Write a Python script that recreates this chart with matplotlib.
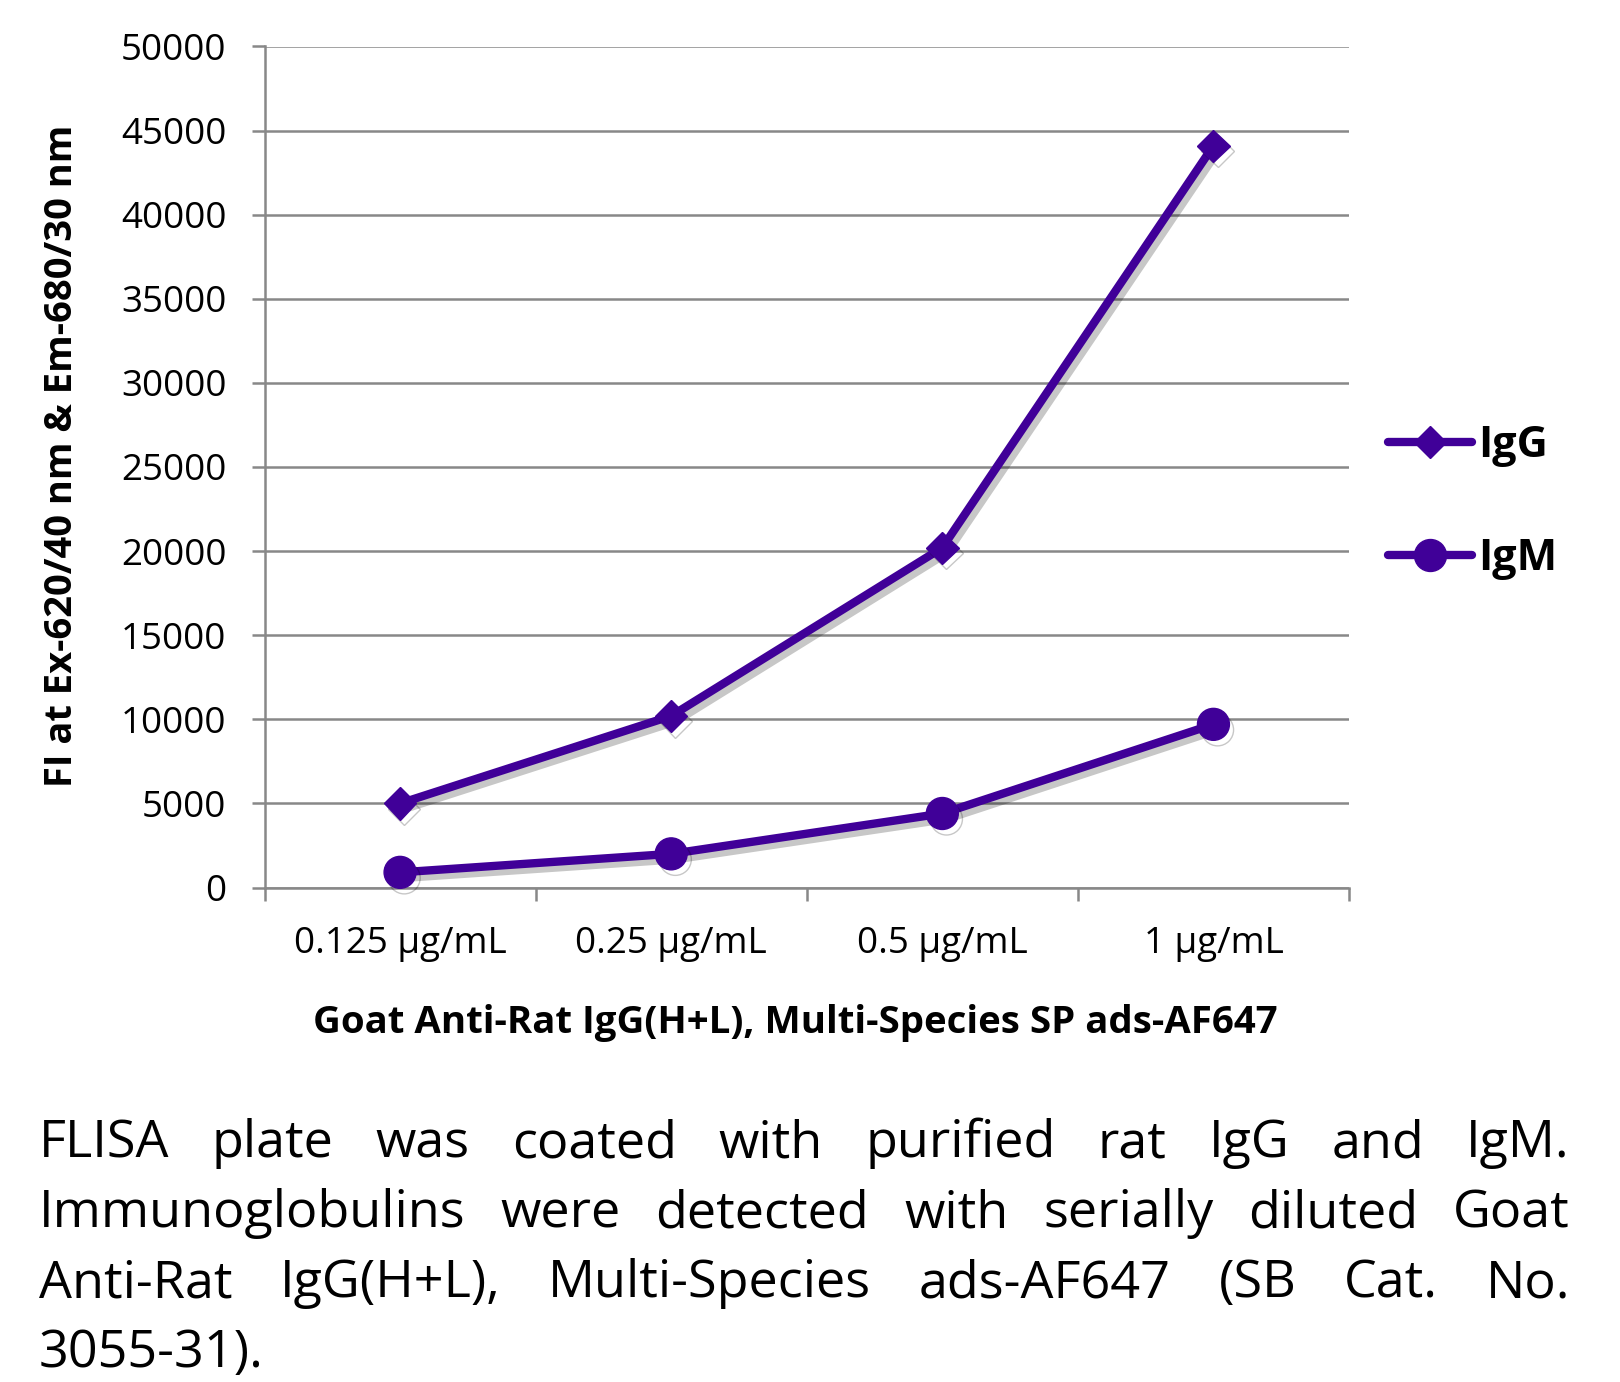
import matplotlib
matplotlib.use('Agg')
import matplotlib.pyplot as plt
import matplotlib.patheffects as pe
from matplotlib.lines import Line2D

# ---------------- data ----------------
categories = ['0.125 µg/mL', '0.25 µg/mL', '0.5 µg/mL', '1 µg/mL']
igg_values = [5000, 10200, 20200, 44100]
igm_values = [900, 2000, 4400, 9700]
series_names = ['IgG', 'IgM']
y_ticks = [0, 5000, 10000, 15000, 20000, 25000, 30000, 35000, 40000, 45000, 50000]
x_title = 'Goat Anti-Rat IgG(H+L), Multi-Species SP ads-AF647'
y_title = 'FI at Ex-620/40 nm & Em-680/30 nm'
caption_lines = [
    'FLISA plate was coated with purified rat IgG and IgM.',
    'Immunoglobulins were detected with serially diluted Goat',
    'Anti-Rat IgG(H+L), Multi-Species ads-AF647 (SB Cat. No.',
    '3055-31).',
]

# ---------------- style ----------------
FONT = ['Open Sans', 'DejaVu Sans']
plt.rcParams['font.family'] = FONT
PURPLE = '#400098'
GRID = '#888888'
W, H = 1620, 1382

fig = plt.figure(figsize=(W / 100, H / 100), dpi=100)
ax_l, ax_r, ax_t, ax_b = 264.5, 1349, 46.5, 887.5
ax = fig.add_axes([ax_l / W, 1 - ax_b / H, (ax_r - ax_l) / W, (ax_b - ax_t) / H])

xpos = list(range(len(categories)))
shadow = [pe.SimpleLineShadow(offset=(3, -4), shadow_color='black', alpha=0.22), pe.Normal()]
ax.plot(xpos, igg_values, color=PURPLE, lw=6, marker='D', ms=16.5,
        solid_capstyle='round', path_effects=shadow, zorder=5, clip_on=False)
ax.plot(xpos, igm_values, color=PURPLE, lw=6, marker='o', ms=23,
        solid_capstyle='round', path_effects=shadow, zorder=5, clip_on=False)

ax.set_xlim(-0.5, len(categories) - 0.5)
ax.set_ylim(y_ticks[0], y_ticks[-1])
ax.set_yticks(y_ticks)
ax.set_yticklabels([str(v) for v in y_ticks])
ax.yaxis.grid(True, color=GRID, lw=1.8)
ax.set_axisbelow(True)

# x ticks: boundaries as major ticks, labels at category centres
ax.set_xticks([i - 0.5 for i in range(len(categories) + 1)])
ax.set_xticklabels([''] * (len(categories) + 1))
ax.set_xticks(xpos, minor=True)
ax.set_xticklabels(categories, minor=True)
ax.tick_params(axis='x', which='major', length=9.4, width=1.8, color=GRID, direction='out')
ax.tick_params(axis='x', which='minor', length=0, pad=27.5, labelsize=26.5)
ax.tick_params(axis='y', which='major', length=9.4, width=1.8, color=GRID, direction='out',
               pad=18, labelsize=26.5)

for s in ['top', 'right']:
    ax.spines[s].set_visible(False)
for s in ['left', 'bottom']:
    ax.spines[s].set_color(GRID)
    ax.spines[s].set_linewidth(1.8)

# legend
handles = [
    Line2D([0], [0], color=PURPLE, lw=6, marker='D', ms=16.5, solid_capstyle='round'),
    Line2D([0], [0], color=PURPLE, lw=6, marker='o', ms=23, solid_capstyle='round'),
]
leg = fig.legend(handles, series_names, loc='center left',
                 bbox_to_anchor=(1388 / W, 1 - 502 / H), frameon=False,
                 prop={'weight': 'bold', 'size': 31, 'family': FONT},
                 handlelength=1.94, handletextpad=0.16, labelspacing=1.63,
                 borderpad=0, borderaxespad=0)

renderer = fig.canvas.get_renderer()

def fit_text(t, target, vertical=False):
    bb = t.get_window_extent(renderer)
    cur = bb.height if vertical else bb.width
    t.set_fontsize(t.get_fontsize() * target / cur)

# axis titles
xt = fig.text(795 / W, 1 - 1023 / H, x_title, ha='center', va='center',
              fontweight='bold', fontsize=24)
fit_text(xt, 966)
yt = fig.text(62 / W, 1 - 456 / H, y_title, ha='center', va='center',
              rotation=90, fontweight='bold', fontsize=24)
fit_text(yt, 664, vertical=True)

# justified caption
cap_fs = 37.5
x0, x1 = 39, 1570
baselines = [1157, 1227, 1297, 1367]
for i, (line, yb) in enumerate(zip(caption_lines, baselines)):
    words = line.split(' ')
    texts = [fig.text(0, 1 - yb / H, w, fontsize=cap_fs, va='baseline', ha='left')
             for w in words]
    widths = [t.get_window_extent(renderer).width for t in texts]
    justify = i < len(caption_lines) - 1 and len(words) > 1
    if justify:
        gap = (x1 - x0 - sum(widths)) / (len(words) - 1)
    else:
        gap = cap_fs * 100 / 72 * 0.26
    pos = x0
    for t, w in zip(texts, widths):
        t.set_x(pos / W)
        pos += w + gap

fig.savefig('out.png', dpi=100, facecolor='white')
